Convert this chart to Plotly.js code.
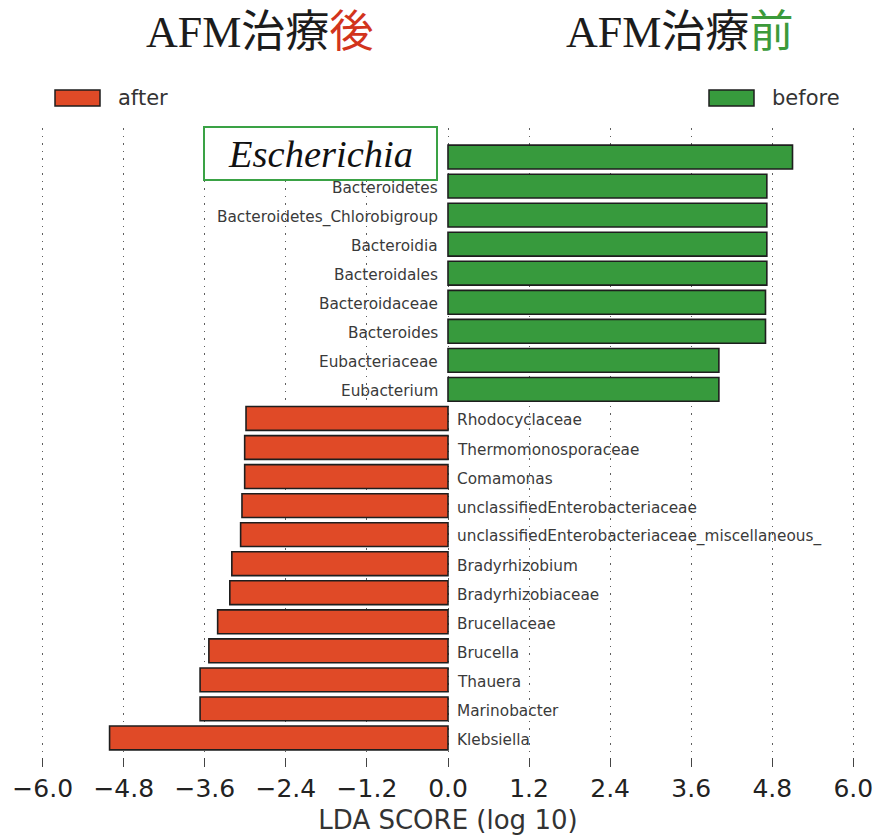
<!DOCTYPE html>
<html>
<head>
<meta charset="utf-8">
<script src="https://cdn.plot.ly/plotly-3.0.1.min.js"></script>
<style>html,body{margin:0;padding:0;background:#fff;}#chart{width:875px;height:838px;}</style>
</head>
<body>
<div id="chart"></div>
<script>
// ---- data ----
const beforeNames = ['Escherichia','Bacteroidetes','Bacteroidetes_Chlorobigroup','Bacteroidia','Bacteroidales','Bacteroidaceae','Bacteroides','Eubacteriaceae','Eubacterium'];
const beforeScores = [5.10, 4.72, 4.72, 4.72, 4.72, 4.70, 4.70, 4.01, 4.01];
const afterNames = ['Rhodocyclaceae','Thermomonosporaceae','Comamonas','unclassifiedEnterobacteriaceae','unclassifiedEnterobacteriaceae_miscellaneous_','Bradyrhizobium','Bradyrhizobiaceae','Brucellaceae','Brucella','Thauera','Marinobacter','Klebsiella'];
const afterScores = [-2.99, -3.01, -3.01, -3.05, -3.07, -3.20, -3.23, -3.41, -3.54, -3.67, -3.67, -5.01];
const highlighted = 'Escherichia';
const groupLabels = ['after', 'before'];
const titleLeft = ['AFM治療', '後'];
const titleRight = ['AFM治療', '前'];
const xTickVals = [-6.0, -4.8, -3.6, -2.4, -1.2, 0.0, 1.2, 2.4, 3.6, 4.8, 6.0];
const xTickText = ['−6.0', '−4.8', '−3.6', '−2.4', '−1.2', '0.0', '1.2', '2.4', '3.6', '4.8', '6.0'];
const xTitle = 'LDA SCORE (log 10)';

const RED = '#e04a27';
const GREEN = '#379a3d';
const EDGE = '#1e1e1e';
const LABEL = '#3a3a3a';

// bottom-to-top category order
const order = beforeNames.concat(afterNames).slice().reverse();
const xRange = [-6.025, 6.025];

const traces = [
  {type: 'bar', orientation: 'h', name: groupLabels[0], x: afterScores, y: afterNames,
   width: 0.82, marker: {color: RED, line: {color: EDGE, width: 1.6}}, showlegend: false, hoverinfo: 'x+y'},
  {type: 'bar', orientation: 'h', name: groupLabels[1], x: beforeScores, y: beforeNames,
   width: 0.82, marker: {color: GREEN, line: {color: EDGE, width: 1.6}}, showlegend: false, hoverinfo: 'x+y'}
];

const W = 875, H = 838, L = 41, R = 20, T = 128, B = 71;
const pw = W - L - R, ph = H - T - B;
const px = x => (x - L) / pw;
const py = y => (H - B - y) / ph;

const labelFont = {family: 'DejaVu Sans', size: 15.3, color: LABEL};
const nameAnnots = beforeNames.filter(n => n !== highlighted).map(n => ({
  xref: 'x', yref: 'y', x: 0, y: n, xanchor: 'right', yanchor: 'middle', xshift: -8, yshift: -2,
  showarrow: false, text: n, font: labelFont
})).concat(afterNames.map(n => ({
  xref: 'x', yref: 'y', x: 0, y: n, xanchor: 'left', yanchor: 'middle', xshift: 7, yshift: -2,
  showarrow: false, text: n, font: labelFont
})));

const layout = {
  width: W, height: H,
  margin: {l: L, r: R, t: T, b: B, pad: 0},
  paper_bgcolor: '#ffffff', plot_bgcolor: '#ffffff',
  barmode: 'overlay',
  showlegend: false,
  font: {family: 'DejaVu Sans', color: '#222'},
  xaxis: {
    range: xRange, tickmode: 'array', tickvals: xTickVals, ticktext: xTickText,
    ticks: 'inside', ticklen: 9, tickwidth: 1, tickcolor: '#444',
    showline: false, zeroline: false,
    showgrid: true, gridcolor: '#5e5e5e', gridwidth: 1, griddash: '1.5px,6px',
    tickfont: {family: 'DejaVu Sans', size: 25, color: '#222'}, ticklabelstandoff: 4,
    title: {text: xTitle, font: {family: 'DejaVu Sans', size: 26, color: '#333'}, standoff: 8},
    fixedrange: true
  },
  xaxis2: {
    overlaying: 'x', side: 'top', anchor: 'y', range: xRange,
    tickmode: 'array', tickvals: xTickVals, ticktext: xTickText, showticklabels: false,
    ticks: 'inside', ticklen: 9, tickwidth: 1, tickcolor: '#444',
    showline: false, zeroline: false, showgrid: false, fixedrange: true
  },
  yaxis: {
    type: 'category', categoryorder: 'array', categoryarray: order,
    range: [-1, order.length], showticklabels: false, ticks: '',
    showgrid: false, zeroline: false, showline: false, fixedrange: true
  },
  shapes: [
    {type: 'rect', xref: 'paper', yref: 'paper', x0: px(55), x1: px(100), y0: py(106), y1: py(90),
     fillcolor: RED, line: {color: EDGE, width: 1.5}},
    {type: 'rect', xref: 'paper', yref: 'paper', x0: px(709), x1: px(754), y0: py(106), y1: py(90),
     fillcolor: GREEN, line: {color: EDGE, width: 1.5}}
  ],
  annotations: nameAnnots.concat([
    {xref: 'paper', yref: 'paper', x: px(116), y: py(98), xanchor: 'left', yanchor: 'middle', showarrow: false,
     text: groupLabels[0], font: {family: 'DejaVu Sans', size: 21, color: '#333'}},
    {xref: 'paper', yref: 'paper', x: px(770), y: py(98), xanchor: 'left', yanchor: 'middle', showarrow: false,
     text: groupLabels[1], font: {family: 'DejaVu Sans', size: 21, color: '#333'}},
    {xref: 'paper', yref: 'paper', x: px(259), y: py(32), xanchor: 'center', yanchor: 'middle', showarrow: false,
     text: titleLeft[0] + '<span style="color:#d2341c">' + titleLeft[1] + '</span>',
     font: {family: 'Liberation Serif, Noto Sans CJK JP', size: 44, color: '#1c1c1c'}},
    {xref: 'paper', yref: 'paper', x: px(679), y: py(32), xanchor: 'center', yanchor: 'middle', showarrow: false,
     text: titleRight[0] + '<span style="color:#3c9a3a">' + titleRight[1] + '</span>',
     font: {family: 'Liberation Serif, Noto Sans CJK JP', size: 44, color: '#1c1c1c'}},
    {xref: 'paper', yref: 'y', x: px(320.5), y: highlighted, yshift: 3.5, xanchor: 'center', yanchor: 'middle',
     showarrow: false, text: '<i>' + highlighted + '</i>',
     font: {family: 'Liberation Serif', size: 38.5, color: '#111'},
     bordercolor: '#3aa245', borderwidth: 2, borderpad: 0, bgcolor: '#ffffff', width: 231, height: 51}
  ])
};

Plotly.newPlot('chart', traces, layout, {displayModeBar: false, staticPlot: true});
</script>
</body>
</html>
